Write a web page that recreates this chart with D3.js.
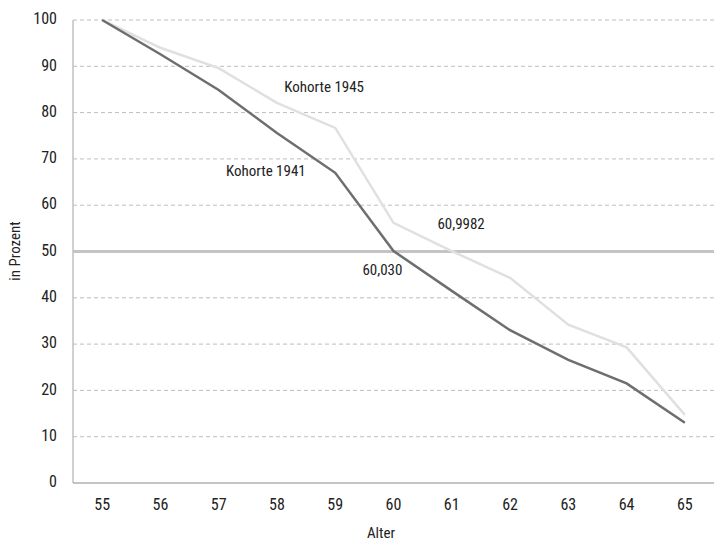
<!DOCTYPE html>
<html><head><meta charset="utf-8">
<script src="https://cdn.jsdelivr.net/npm/d3@7"></script>
<style>
body{margin:0;background:#fff;}
text{font-family:"Liberation Sans Narrow","Roboto Condensed","DejaVu Sans Condensed",sans-serif;fill:#222;}
</style></head><body>
<svg id="c" width="714" height="542"></svg>
<script>
const ages = [55,56,57,58,59,60,61,62,63,64,65];
const kohorte1941 = [100,92.6,84.9,75.6,67.0,50.1,41.5,33.0,26.6,21.5,13.0];
const kohorte1945 = [100,94.0,89.6,82.1,76.7,56.2,50.1,44.3,34.2,29.3,14.7];
const yTicks = [0,10,20,30,40,50,60,70,80,90,100];
const threshold = 50;
const annotations = [
  {text:"Kohorte 1945", age:58.81, value:85.3},
  {text:"Kohorte 1941", age:57.81, value:67.2},
  {text:"60,9982", age:61.16, value:55.7},
  {text:"60,030", age:59.81, value:45.8}
];

(function(){
const svg = d3.select("#c");
const mLeft = 73, mRight = 714, mTop = 20, mBottom = 483;
const x = d3.scaleLinear().domain([54.5,65.5]).range([mLeft,mRight]);
const y = d3.scaleLinear().domain([0,100]).range([mBottom,mTop]);

svg.append("g").selectAll("line").data(yTicks.filter(d=>d>0)).join("line")
  .attr("x1",mLeft).attr("x2",mRight).attr("y1",d=>y(d)).attr("y2",d=>y(d))
  .attr("stroke","#bdbdbd").attr("stroke-width",1).attr("stroke-dasharray","4,3");

svg.append("line").attr("x1",mLeft).attr("x2",mRight)
  .attr("y1",y(threshold)).attr("y2",y(threshold))
  .attr("stroke","#c4c4c4").attr("stroke-width",3);

svg.append("line").attr("x1",mLeft).attr("x2",mLeft).attr("y1",mTop).attr("y2",mBottom)
  .attr("stroke","#c0c0c0").attr("stroke-width",1.5);
svg.append("line").attr("x1",mLeft).attr("x2",mRight).attr("y1",mBottom).attr("y2",mBottom)
  .attr("stroke","#b0b0b0").attr("stroke-width",1.5);

svg.append("g").selectAll("text").data(yTicks).join("text")
  .attr("x",57).attr("y",d=>y(d)).attr("text-anchor","end").attr("dominant-baseline","middle")
  .attr("font-size",16).text(d=>d);

svg.append("g").selectAll("text").data(ages).join("text")
  .attr("x",d=>x(d)).attr("y",506).attr("text-anchor","middle").attr("dominant-baseline","middle")
  .attr("font-size",16).text(d=>d);

const line = d3.line().x((d,i)=>x(ages[i])).y(d=>y(d));
svg.append("path").datum(kohorte1945).attr("d",line).attr("fill","none")
  .attr("stroke","#e0e0e0").attr("stroke-width",2.5);
svg.append("path").datum(kohorte1941).attr("d",line).attr("fill","none")
  .attr("stroke","#6e6e6e").attr("stroke-width",2.5);

svg.append("g").selectAll("text").data(annotations).join("text")
  .attr("x",d=>x(d.age)).attr("y",d=>y(d.value)).attr("text-anchor","middle")
  .attr("dominant-baseline","middle").attr("font-size",15).text(d=>d.text);

svg.append("text").attr("x",381).attr("y",534).attr("text-anchor","middle")
  .attr("dominant-baseline","middle").attr("font-size",15).text("Alter");
svg.append("text").attr("transform","translate(16,251) rotate(-90)").attr("text-anchor","middle")
  .attr("dominant-baseline","middle").attr("font-size",15).text("in Prozent");
})();
</script>
</body></html>
